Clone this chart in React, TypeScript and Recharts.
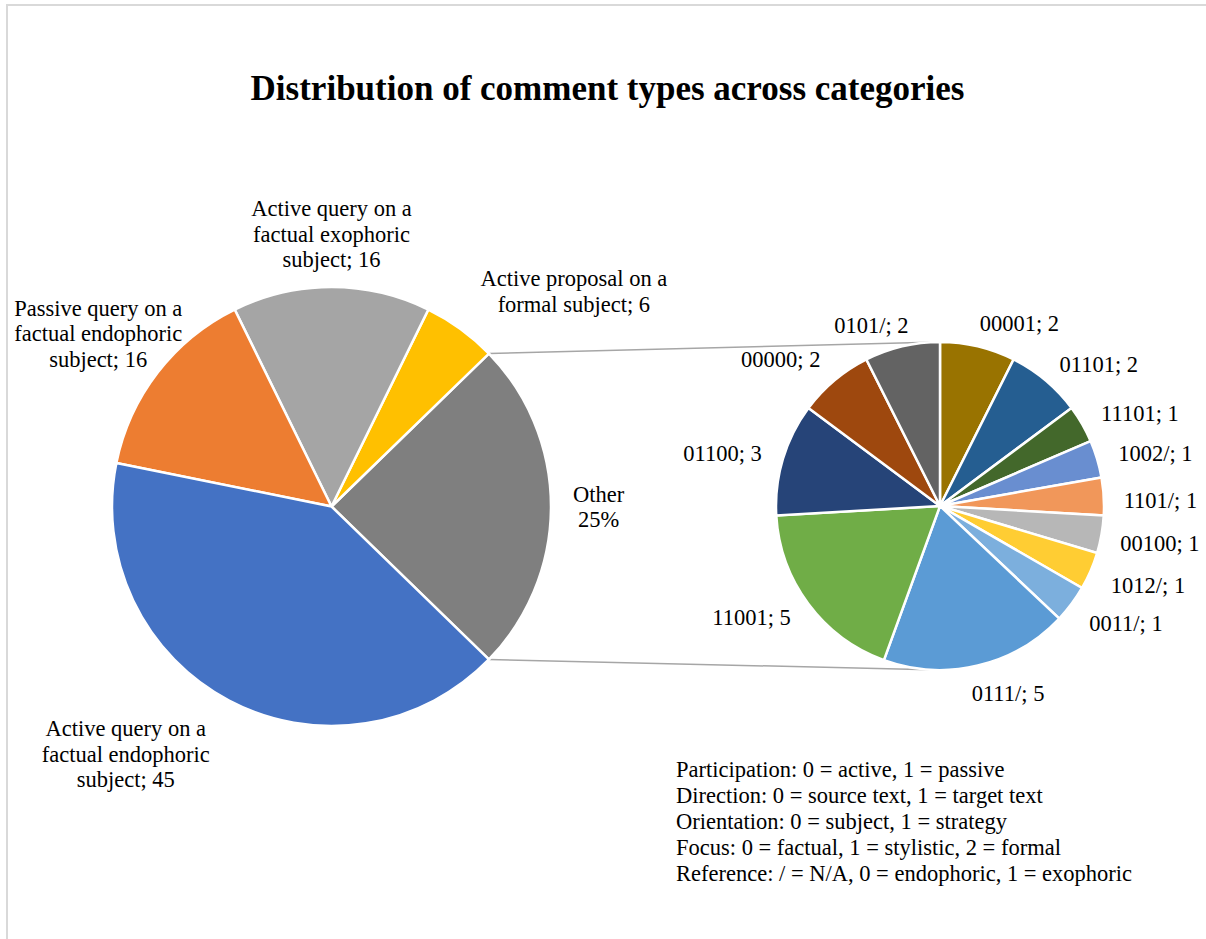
import React from "react";
import { PieChart, Pie, Cell, Customized } from "recharts";

// main pie, in the workbook's series order
const mainCategories = [
  "Active query on a factual endophoric subject",
  "Passive query on a factual endophoric subject",
  "Active query on a factual exophoric subject",
  "Active proposal on a formal subject",
];
const mainValues = [45, 16, 16, 6];
const mainColors = ["#4472C4", "#ED7D31", "#A5A5A5", "#FFC000"];

const otherName = "Other";
const otherColor = "#7F7F7F";

// split-off slice, clockwise from 12 o'clock
const otherCodes = ["00001", "01101", "11101", "1002/", "1101/", "00100", "1012/", "0011/", "0111/", "11001", "01100", "00000", "0101/"];
const otherValues = [2, 2, 1, 1, 1, 1, 1, 1, 5, 5, 3, 2, 2];
const otherColors = ["#997300", "#255E91", "#43682B", "#698ED0", "#F1975A", "#B7B7B7", "#FFCD33", "#7CAFDD", "#5B9BD5", "#70AD47", "#264478", "#9E480E", "#636363"];

const keyLines = [
  "Participation: 0 = active, 1 = passive",
  "Direction: 0 = source text, 1 = target text",
  "Orientation: 0 = subject, 1 = strategy",
  "Focus: 0 = factual, 1 = stylistic, 2 = formal",
  "Reference: / = N/A, 0 = endophoric, 1 = exophoric",
];

const title = "Distribution of comment types across categories";

// layout
const W = 1206;
const H = 939;
const MAIN = { cx: 331.5, cy: 506.5, r: 219.5 };
const SUB = { cx: 940, cy: 506, r: 164 };
const FONT = '"Liberation Serif", "Times New Roman", serif';
const LABEL_SIZE = 22.5;
const LINE_H = 25.5;
const LABEL_GAP = 22;
const WRAP_W = 194;
const RAD = Math.PI / 180;

// small hand adjustments to mimic Excel's best-fit label placement
const labelNudge: Record<string, [number, number]> = {
  "Active proposal on a formal subject": [7, -10],
  "Active query on a factual exophoric subject": [0, -6],
  "Passive query on a factual endophoric subject": [42, -10],
  "Active query on a factual endophoric subject": [-9, 11],
  "00001": [9, -2],
  "1101/": [-2, 5],
  "00100": [-3, 5],
  "1012/": [0, 5],
  "0011/": [0, 6],
  "0111/": [0, 6],
  "00000": [0, -5],
};

const otherTotal = otherValues.reduce((a, b) => a + b, 0);
const grandTotal = otherTotal + mainValues.reduce((a, b) => a + b, 0);
const otherHalf = (otherTotal / grandTotal) * 180;

const mainData = [
  { name: otherName, value: otherTotal, color: otherColor },
  ...mainCategories.map((name, i) => ({ name, value: mainValues[i], color: mainColors[i] })).reverse(),
];
const subData = otherCodes.map((name, i) => ({ name, value: otherValues[i], color: otherColors[i] }));

let ctx: CanvasRenderingContext2D | null = null;
const measure = (s: string) => {
  if (!ctx) ctx = document.createElement("canvas").getContext("2d");
  if (!ctx) return s.length * LABEL_SIZE * 0.45;
  ctx.font = `${LABEL_SIZE}px "Liberation Serif"`;
  return ctx.measureText(s).width;
};

const wrap = (s: string) => {
  const out: string[] = [];
  let cur = "";
  for (const word of s.split(" ")) {
    const t = cur ? cur + " " + word : word;
    if (cur && measure(t) > WRAP_W) {
      out.push(cur);
      cur = word;
    } else cur = t;
  }
  if (cur) out.push(cur);
  return out;
};

const linesFor = (name: string, value: number) => {
  if (name === otherName) return [name, `${Math.round((value / grandTotal) * 100)}%`];
  return wrap(`${name}; ${value}`);
};

const clamp = (v: number) => Math.max(-1, Math.min(1, v));

const renderLabel = (props: any) => {
  const { cx, cy, outerRadius, midAngle, payload } = props;
  const name = payload.name;
  const lines = linesFor(name, payload.value);
  const cos = Math.cos(midAngle * RAD);
  const sin = Math.sin(midAngle * RAD);
  const R = outerRadius + LABEL_GAP;
  const w = Math.max(...lines.map(measure));
  const h = lines.length * LINE_H;
  const [nx, ny] = labelNudge[name] ?? [0, 0];
  const x = cx + R * cos + (w / 2) * clamp(3 * cos) + nx;
  const y = cy - R * sin - (sin * (h - LINE_H)) / 2 + ny;
  return (
    <text
      key={name}
      textAnchor="middle"
      dominantBaseline="central"
      fontFamily={FONT}
      fontSize={LABEL_SIZE}
      fill="#000"
    >
      {lines.map((l, i) => (
        <tspan key={i} x={x} y={y + (i - (lines.length - 1) / 2) * LINE_H}>
          {l}
        </tspan>
      ))}
    </text>
  );
};

const Overlay = () => {
  const ex = MAIN.cx + MAIN.r * Math.cos(otherHalf * RAD);
  const ey = MAIN.r * Math.sin(otherHalf * RAD);
  return (
    <g>
      <line x1={ex} y1={MAIN.cy - ey} x2={SUB.cx} y2={SUB.cy - SUB.r} stroke="#A6A6A6" strokeWidth={1.5} />
      <line x1={ex} y1={MAIN.cy + ey} x2={SUB.cx} y2={SUB.cy + SUB.r} stroke="#A6A6A6" strokeWidth={1.5} />
      <text x={607.5} y={88} textAnchor="middle" dominantBaseline="central" fontFamily={FONT} fontSize={35} fontWeight="bold" fill="#000">
        {title}
      </text>
      {keyLines.map((l, i) => (
        <text key={i} x={676} y={769 + i * 26} dominantBaseline="central" fontFamily={FONT} fontSize={LABEL_SIZE} fill="#000">
          {l}
        </text>
      ))}
    </g>
  );
};

export default function App() {
  return (
    <div style={{ position: "absolute", left: 0, top: 0, width: W, height: H, overflow: "hidden", background: "#fff" }}>
      <div style={{ position: "absolute", left: 6, top: 4, width: W + 20, height: H + 20, border: "2px solid #D9D9D9" }} />
      <div style={{ position: "absolute", left: 0, top: 0 }}>
        <PieChart width={W} height={H} margin={{ top: 0, right: 0, bottom: 0, left: 0 }}>
          <Customized component={Overlay} />
          <Pie
            data={mainData}
            dataKey="value"
            nameKey="name"
            cx={MAIN.cx}
            cy={MAIN.cy}
            outerRadius={MAIN.r}
            startAngle={-otherHalf}
            endAngle={360 - otherHalf}
            stroke="#fff"
            strokeWidth={2.5}
            label={renderLabel}
            labelLine={false}
            isAnimationActive={false}
          >
            {mainData.map((d) => (
              <Cell key={d.name} fill={d.color} />
            ))}
          </Pie>
          <Pie
            data={subData}
            dataKey="value"
            nameKey="name"
            cx={SUB.cx}
            cy={SUB.cy}
            outerRadius={SUB.r}
            startAngle={90}
            endAngle={-270}
            stroke="#fff"
            strokeWidth={2.5}
            label={renderLabel}
            labelLine={false}
            isAnimationActive={false}
          >
            {subData.map((d) => (
              <Cell key={d.name} fill={d.color} />
            ))}
          </Pie>
        </PieChart>
      </div>
    </div>
  );
}
